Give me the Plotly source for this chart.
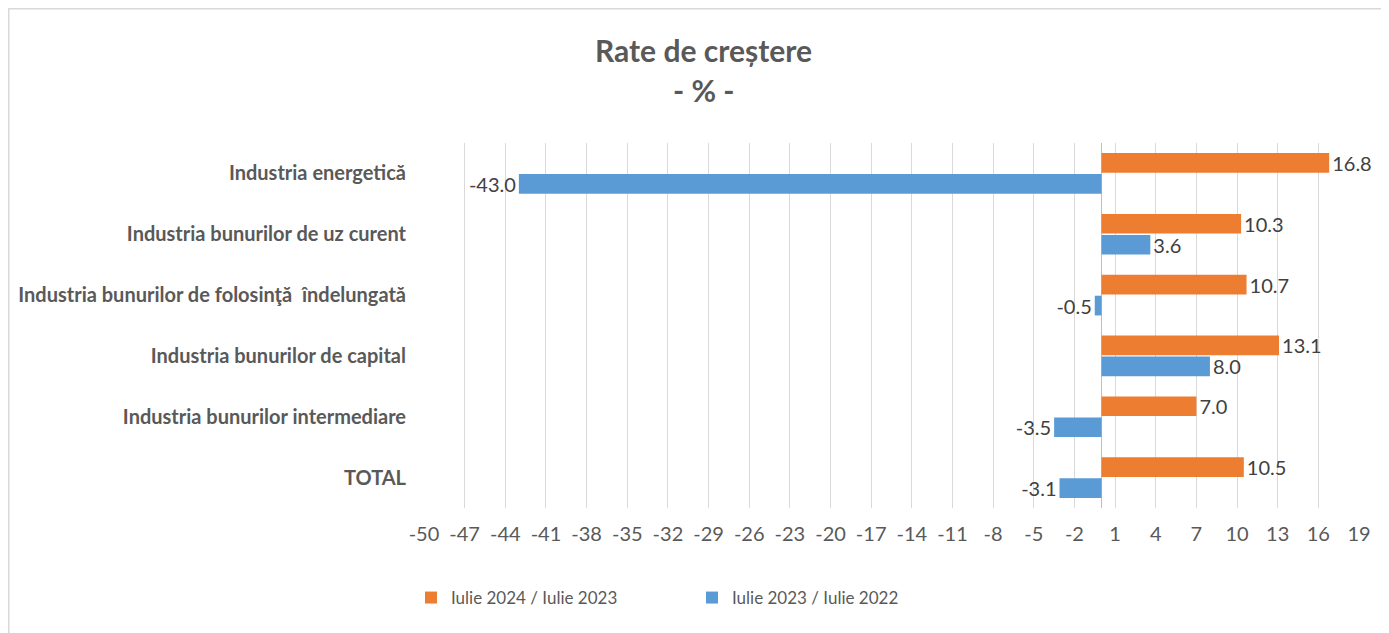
import plotly.graph_objects as go

categories = [
    "Industria energetică",
    "Industria bunurilor de uz curent",
    "Industria bunurilor de folosinţă  îndelungată",
    "Industria bunurilor de capital",
    "Industria bunurilor intermediare",
    "TOTAL",
]
series_2024 = [16.8, 10.3, 10.7, 13.1, 7.0, 10.5]
series_2023 = [-43.0, 3.6, -0.5, 8.0, -3.5, -3.1]
name_2024 = "Iulie 2024 / Iulie 2023"
name_2023 = "Iulie 2023 / Iulie 2022"
title_line1 = "Rate de creștere"
title_line2 = "- % -"
tick_vals = list(range(-50, 20, 3))
tick_text = [str(v) for v in tick_vals]

FONT = "Lato"
GREY = "#595959"

# page has an 8px body margin; figure coordinates are page coordinates minus 8
W, H = 1381, 625
L, R, T, B = 416, 30, 135, 125
PW, PH = W - L - R, H - T - B


def px_x(x):
    return (x - L) / PW


def px_y(y):
    return (H - B - y) / PH


fig = go.Figure()
fig.add_trace(go.Bar(
    y=categories, x=series_2024, name=name_2024, orientation="h",
    marker=dict(color="#ED7D31", line=dict(width=0)),
    texttemplate="%{x:.1f}", textposition="outside", constraintext="none",
    textfont=dict(family=FONT, size=20, color="#404040"),
    cliponaxis=False,
))
fig.add_trace(go.Bar(
    y=categories, x=series_2023, name=name_2023, orientation="h",
    marker=dict(color="#5B9BD5", line=dict(width=0)),
    texttemplate="%{x:.1f}", textposition="outside", constraintext="none",
    textfont=dict(family=FONT, size=20, color="#404040"),
    cliponaxis=False,
))

fig.update_layout(
    width=W, height=H,
    margin=dict(l=L, r=R, t=T, b=B, autoexpand=False),
    paper_bgcolor="white", plot_bgcolor="white",
    barmode="group", bargap=0.31, bargroupgap=0.06,
    font=dict(family=FONT, color=GREY),
    separators=".",
    xaxis=dict(
        range=[-50, 19], tickmode="array", tickvals=tick_vals, ticktext=tick_text,
        showgrid=True, gridcolor="#D9D9D9", gridwidth=1,
        zeroline=True, zerolinecolor="#BFBFBF", zerolinewidth=1,
        showline=False, ticks="", ticklabelstandoff=12,
        tickfont=dict(family=FONT, size=20, color=GREY),
    ),
    yaxis=dict(
        autorange="reversed", showgrid=False, showline=False, ticks="",
        tickfont=dict(family=FONT, size=20, color=GREY, weight="bold"),
        ticklabelstandoff=17,
    ),
    legend=dict(
        orientation="h", x=px_x(403), xanchor="left", y=px_y(590), yanchor="middle",
        font=dict(family=FONT, size=17, color=GREY),
        entrywidth=236, entrywidthmode="pixels",
        traceorder="normal",
    ),
    showlegend=True,
)

# title as two centred lines
fig.add_annotation(
    text=title_line1, xref="paper", yref="paper", x=px_x(695.5), y=px_y(42),
    xanchor="center", yanchor="middle", showarrow=False,
    font=dict(family=FONT, size=30, color=GREY, weight="bold"),
)
fig.add_annotation(
    text=title_line2, xref="paper", yref="paper", x=px_x(695.5), y=px_y(82),
    xanchor="center", yanchor="middle", showarrow=False,
    font=dict(family=FONT, size=30, color=GREY, weight="bold"),
)

# chart border (top and left edges visible)
fig.add_shape(
    type="rect", xref="paper", yref="paper",
    x0=px_x(0.75), x1=px_x(W + 10),
    y0=px_y(H + 10), y1=px_y(0.75),
    line=dict(color="#D9D9D9", width=1.5), fillcolor="rgba(0,0,0,0)", layer="below",
)

fig.write_html("out.html")
